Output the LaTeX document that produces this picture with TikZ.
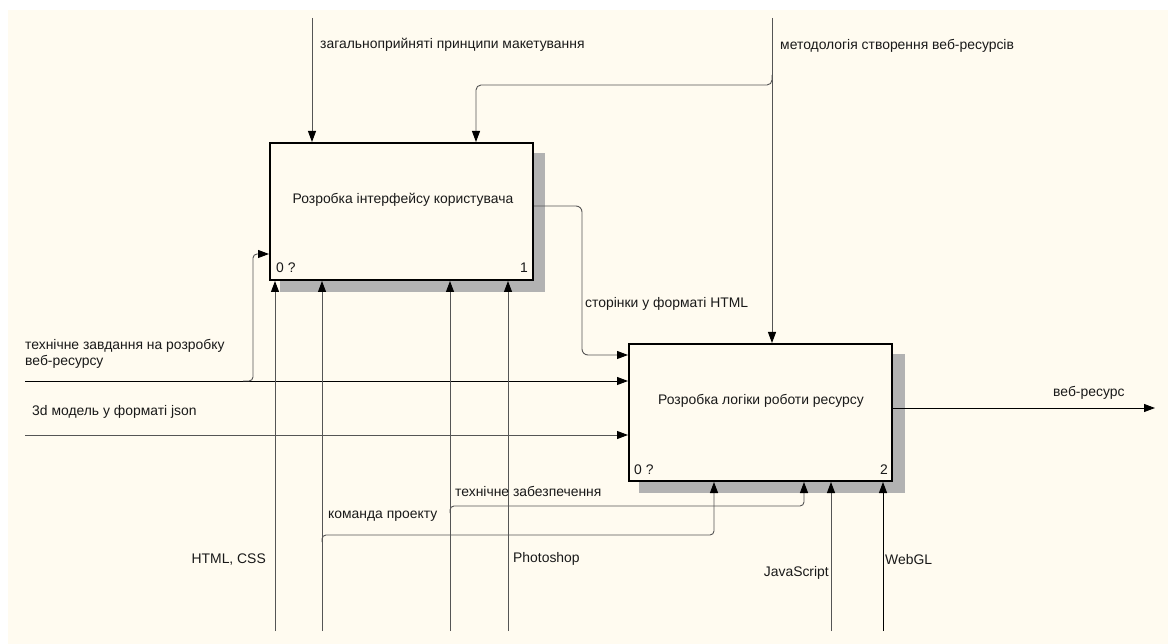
\documentclass[tikz,border=0pt]{standalone}
\usepackage{fontspec}
\setmainfont{Liberation Sans}
\usetikzlibrary{arrows.meta}
\definecolor{bgc}{RGB}{255,251,240}
\definecolor{ln}{RGB}{85,85,85}
\tikzset{
  arr/.style={draw=ln, line width=0.9pt, -{Triangle[length=11pt,width=8pt,color=black]}},
  arrb/.style={arr, draw=black},
  abox/.style={draw=black, line width=2pt, fill=bgc, minimum width=263pt, minimum height=137pt, inner sep=0pt},
  lbl/.style={font=\fontsize{13.9}{16.5}\selectfont, inner sep=0pt, text=black!90},
  corner/.style={font=\fontsize{13.9}{16.5}\selectfont, inner sep=0pt, text=black!90}
}
\begin{document}
\begin{tikzpicture}[x=1pt,y=-1pt]
\useasboundingbox (0,0) rectangle (1168,644);
\fill[white] (0,0) rectangle (1168,644);
\fill[bgc] (8,10) rectangle (1168,644);

% shadows
\fill[black!30] (280,153) rectangle (545,292);
\fill[black!30] (639,354) rectangle (905,493);

% boxes
\node[abox] (b1) at (401.5,211.5) {};
\node[abox] (b2) at (760.5,412.5) {};
\node[lbl] (t1) at (403,200) {Розробка інтерфейсу користувача};
\node[lbl] (t2) at (761,401) {Розробка логіки роботи ресурсу};
\node[corner, anchor=west] (n1a) at (276,268) {0 ?};
\node[corner, anchor=east] (n1b) at (528,268) {1};
\node[corner, anchor=west] (n2a) at (634,470) {0 ?};
\node[corner, anchor=east] (n2b) at (888,470) {2};

% coordinates
\coordinate (c1) at (312,18);
\coordinate (c2) at (772,18);
\coordinate (c2a) at (772,75);
\coordinate (c2b) at (772,85);
\coordinate (c2c) at (476,85);
\coordinate (i1) at (25,381);
\coordinate (i1a) at (243,381);
\coordinate (i1b) at (253,381);
\coordinate (i1c) at (253,254);
\coordinate (i2) at (25,435);
\path (b1.east) ++(0,-5.5) coordinate (o1s);
\coordinate (o1a) at (582,206);
\coordinate (o1b) at (582,355);
\path (b2.east) ++(0,-4.5) coordinate (o2s);
\coordinate (o2e) at (1155,408);
\coordinate (m1) at (275,631);
\coordinate (m2) at (322,631);
\coordinate (m3) at (450,631);
\coordinate (m4) at (508,631);
\coordinate (m5) at (831,631);
\coordinate (m6) at (883,631);
\coordinate (m2a) at (322,542);
\coordinate (m2b) at (322,535);
\coordinate (m2c) at (714,535);
\coordinate (m3a) at (450,513);
\coordinate (m3b) at (450,506);
\coordinate (m3c) at (804,506);

% controls
\draw[arr] (c1) -- (c1 |- b1.north);
\draw[arr] (c2) -- (c2 |- b2.north);
\draw[arr, rounded corners=5] (c2a) -- (c2b) -- (c2c) -- (c2c |- b1.north);

% inputs
\draw[arrb] (i1) -- (i1 -| b2.west);
\draw[arr, rounded corners=4] (i1a) -- (i1b) -- (i1c) -- (i1c -| b1.west);
\draw[arr] (i2) -- (i2 -| b2.west);

% outputs
\draw[arr, rounded corners=6] (o1s) -- (o1a) -- (o1b) -- (o1b -| b2.west);
\draw[arrb] (o2s) -- (o2e);

% mechanisms
\draw[arr] (m1) -- (m1 |- b1.south);
\draw[arr] (m2) -- (m2 |- b1.south);
\draw[arr] (m3) -- (m3 |- b1.south);
\draw[arr] (m4) -- (m4 |- b1.south);
\draw[arr] (m5) -- (m5 |- b2.south);
\draw[arrb] (m6) -- (m6 |- b2.south);
\draw[arr, rounded corners=4] (m2a) -- (m2b) -- (m2c) -- (m2c |- b2.south);
\draw[arr, rounded corners=4] (m3a) -- (m3b) -- (m3c) -- (m3c |- b2.south);

% labels
\node[lbl, anchor=west] (l1) at (320,45) {загальноприйняті принципи макетування};
\node[lbl, anchor=west] (l2) at (780,46) {методологія створення веб-ресурсів};
\node[lbl, anchor=west, align=left] (l3) at (25,354) {технічне завдання на розробку\\веб-ресурсу};
\node[lbl, anchor=west] (l4) at (32,412) {3d модель у форматі json};
\node[lbl, anchor=west] (l5) at (585,304) {сторінки у форматі HTML};
\node[lbl, anchor=west] (l6) at (1053,393) {веб-ресурс};
\node[lbl, anchor=west] (l7) at (455,491) {технічне забезпечення};
\node[lbl, anchor=west] (l8) at (328,516) {команда проекту};
\node[lbl, anchor=east] (l9) at (266,560) {HTML, CSS};
\node[lbl, anchor=west] (l10) at (513,559) {Photoshop};
\node[lbl, anchor=east] (l11) at (829,573) {JavaScript};
\node[lbl, anchor=west] (l12) at (885,560) {WebGL};
\end{tikzpicture}
\end{document}
